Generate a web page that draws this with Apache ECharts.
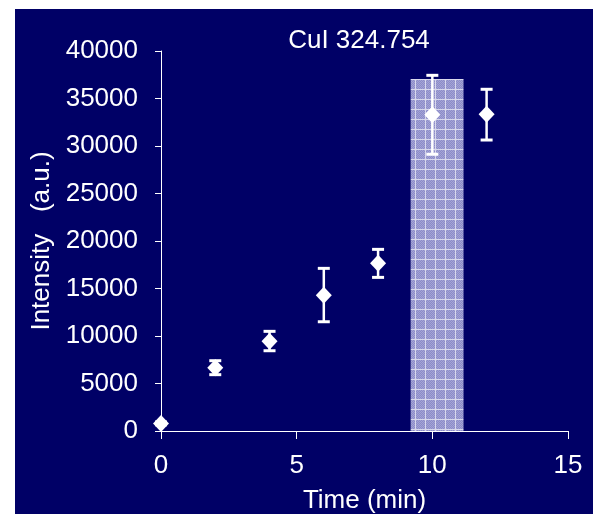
<!DOCTYPE html>
<html>
<head>
<meta charset="utf-8">
<script src="https://cdn.jsdelivr.net/npm/echarts@6/dist/echarts.min.js"></script>
<style>
  html, body { margin: 0; padding: 0; background: #ffffff; }
  #chart { position: absolute; left: 15px; top: 9px; width: 578px; height: 505px; }
</style>
</head>
<body>
<div id="chart"></div>
<script>
// Cu I 324.754 nm emission intensity versus time
const times = [0, 2, 4, 6, 8, 10, 12];
const intensity = [800, 6650, 9450, 14300, 17650, 33300, 33350];
const errLow = [650, 5930, 8450, 11500, 16170, 29130, 30630];
const errHigh = [950, 7400, 10490, 17120, 19120, 37440, 35970];

// highlighted time window: [start, end, height]
const bandRange = [9.2, 11.15, 37050];

const xTicks = { min: 0, max: 15, step: 5 };
const yTicks = { min: 0, max: 40000, step: 5000 };

const FONT = '"Liberation Sans", Arial, Helvetica, sans-serif';

// cross-hatched fill for the highlighted window
function makeHatch() {
  const c = document.createElement('canvas');
  c.width = 10; c.height = 10;
  const g = c.getContext('2d');
  g.fillStyle = '#8c8cc8';
  g.fillRect(0, 0, 10, 10);
  for (let y = 0; y < 10; y++) {
    for (let x = 0; x < 10; x++) {
      if ((x + y) % 2 === 0) { g.fillStyle = '#a4a4d6'; g.fillRect(x, y, 1, 1); }
    }
  }
  g.fillStyle = '#d8d8ec';
  g.fillRect(0, 0, 10, 1);
  g.fillRect(0, 0, 1, 10);
  return c;
}
const hatch = makeHatch();

const chart = echarts.init(document.getElementById('chart'), null, { renderer: 'canvas' });

const option = {
  backgroundColor: '#000066',
  animation: false,
  title: {
    text: 'CuI 324.754',
    left: 344,
    top: 19,
    padding: 0,
    textAlign: 'center',
    textStyle: { color: '#ffffff', fontFamily: FONT, fontSize: 26, fontWeight: 'normal' }
  },
  grid: { left: 146, top: 42, right: 25, bottom: 83, containLabel: false, outerBoundsMode: 'none' },
  xAxis: {
    type: 'value',
    min: xTicks.min, max: xTicks.max, interval: xTicks.step,
    name: 'Time (min)',
    nameLocation: 'middle',
    nameGap: 57,
    nameTextStyle: { color: '#ffffff', fontFamily: FONT, fontSize: 26 },
    axisLine: { show: true, onZero: false, lineStyle: { color: '#ffffff', width: 1 } },
    axisTick: { show: true, inside: false, length: 8, lineStyle: { color: '#ffffff' } },
    axisLabel: { color: '#ffffff', fontFamily: FONT, fontSize: 26, margin: 22 },
    splitLine: { show: false }
  },
  yAxis: {
    type: 'value',
    min: yTicks.min, max: yTicks.max, interval: yTicks.step,
    name: 'Intensity   (a.u.)',
    nameLocation: 'middle',
    nameGap: 90,
    nameRotate: 90,
    nameTextStyle: { color: '#ffffff', fontFamily: FONT, fontSize: 26 },
    axisLine: { show: true, onZero: false, lineStyle: { color: '#ffffff', width: 1 } },
    axisTick: { show: true, inside: false, length: 6, lineStyle: { color: '#ffffff' } },
    axisLabel: {
      color: '#ffffff', fontFamily: FONT, fontSize: 26, margin: 23,
      formatter: function (v) { return String(v); }
    },
    splitLine: { show: false }
  },
  series: [
    {
      type: 'custom',
      name: 'window',
      silent: true,
      data: [bandRange],
      renderItem: function (params, api) {
        const p0 = api.coord([api.value(0), api.value(2)]);
        const p1 = api.coord([api.value(1), 0]);
        return {
          type: 'rect',
          shape: { x: p0[0], y: p0[1], width: p1[0] - p0[0], height: p1[1] - p0[1] },
          style: { fill: { image: hatch, repeat: 'repeat' }, stroke: null }
        };
      }
    },
    {
      type: 'custom',
      name: 'error',
      silent: true,
      data: times.map((t, i) => [t, errLow[i], errHigh[i]]),
      renderItem: function (params, api) {
        const lo = api.coord([api.value(0), api.value(1)]);
        const hi = api.coord([api.value(0), api.value(2)]);
        const hw = 6;
        return {
          type: 'group',
          children: [
            { type: 'line', shape: { x1: lo[0], y1: lo[1], x2: hi[0], y2: hi[1] }, style: { stroke: '#ffffff', lineWidth: 2.5 } },
            { type: 'line', shape: { x1: hi[0] - hw, y1: hi[1], x2: hi[0] + hw, y2: hi[1] }, style: { stroke: '#ffffff', lineWidth: 3 } },
            { type: 'line', shape: { x1: lo[0] - hw, y1: lo[1], x2: lo[0] + hw, y2: lo[1] }, style: { stroke: '#ffffff', lineWidth: 3 } }
          ]
        };
      }
    },
    {
      type: 'scatter',
      name: 'Cu I 324.754',
      data: times.map((t, i) => [t, intensity[i]]),
      symbol: 'diamond',
      symbolSize: [16, 17],
      itemStyle: { color: '#ffffff', opacity: 1 }
    }
  ]
};

chart.setOption(option);
</script>
</body>
</html>
